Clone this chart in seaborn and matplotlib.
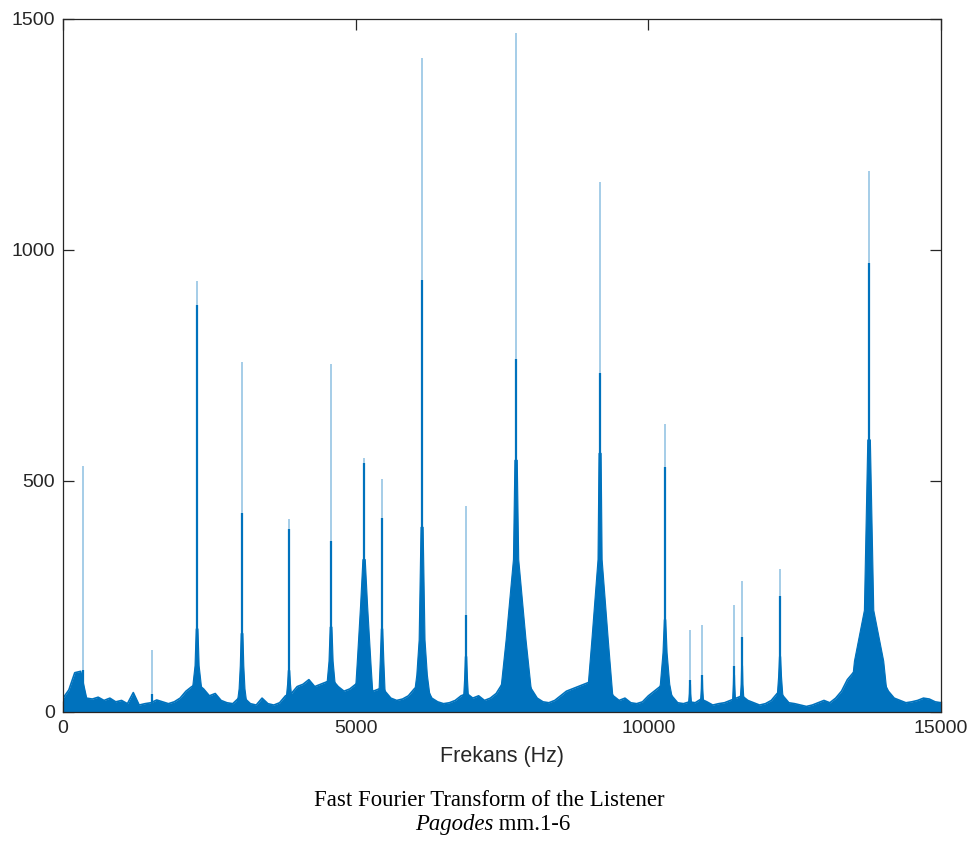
import numpy as np
import pandas as pd
import seaborn as sns
import matplotlib
import matplotlib.pyplot as plt
from matplotlib.patches import Polygon
plt.switch_backend('Agg')

# spectral peaks (Hz, amplitude)
PEAK_HZ = [342, 1520, 2290, 3058, 3861, 4579, 5143, 5450, 6134, 6885,
           7740, 9175, 10285, 10712, 10917, 11464, 11601, 12250, 13771]
PEAK_TOP = [532, 134, 933, 758, 418, 753, 550, 504, 1416, 446,
            1470, 1147, 623, 177, 188, 232, 284, 310, 1171]
# height where the spike stops being solid
PEAK_CORE = [90, 40, 880, 430, 395, 370, 540, 420, 935, 210,
             764, 733, 530, 70, 80, 100, 162, 250, 972]
# shape of each peak's base: half widths (Hz) at four heights
BASE_W = [0, 0, 140, 100, 85, 140, 170, 100, 170, 85,
          300, 240, 170, 50, 50, 50, 70, 100, 340]
SKIRT_H = [0, 0, 60, 50, 40, 60, 100, 50, 80, 35,
           156, 156, 60, 20, 25, 25, 30, 40, 110]
SKIRT_W = [0, 0, 70, 50, 40, 70, 120, 50, 90, 40,
           170, 140, 80, 25, 25, 25, 30, 45, 250]
NECK_H = [0, 0, 100, 100, 60, 110, 230, 113, 156, 70,
          330, 330, 128, 40, 50, 60, 60, 76, 220]
NECK_W = [0, 0, 35, 30, 25, 35, 60, 30, 50, 25,
          45, 35, 35, 12, 12, 12, 15, 25, 80]
DENSE_H = [0, 0, 180, 170, 90, 184, 330, 180, 400, 120,
           545, 560, 200, 60, 70, 80, 100, 120, 589]
DENSE_W = [0, 0, 15, 15, 12, 15, 20, 12, 18, 12,
           20, 18, 12, 8, 8, 8, 8, 10, 22]

# noise floor, every 100 Hz from 0 to 15000
FLOOR_HZ = list(range(0, 15001, 100))
FLOOR = [30, 48, 85, 88, 30, 28, 32, 25, 30, 22,
         25, 18, 42, 15, 18, 20, 26, 22, 18, 22,
         30, 45, 55, 60, 50, 35, 40, 25, 20, 18,
         30, 30, 18, 15, 30, 18, 15, 20, 35, 40,
         55, 60, 70, 55, 60, 65, 70, 55, 45, 50,
         60, 70, 60, 45, 50, 45, 30, 25, 28, 35,
         50, 60, 55, 30, 22, 18, 20, 25, 35, 40,
         30, 35, 25, 30, 40, 60, 80, 90, 90, 75,
         50, 30, 22, 20, 25, 35, 45, 50, 55, 60,
         65, 70, 70, 55, 35, 25, 30, 20, 18, 22,
         35, 45, 55, 55, 35, 20, 18, 22, 20, 28,
         22, 15, 18, 20, 25, 30, 35, 25, 20, 15,
         18, 25, 40, 35, 20, 18, 15, 12, 15, 20,
         25, 20, 30, 45, 70, 85, 80, 100, 100, 105,
         70, 45, 30, 25, 20, 22, 25, 30, 28, 22,
         20]

BLUE = "#0072BD"
INK = "#262626"

sns.set_theme(style="ticks")
matplotlib.rcParams['font.family'] = ["Liberation Sans", "DejaVu Sans"]

fig = plt.figure(figsize=(9.79, 8.43), dpi=100)
ax = fig.add_axes([0.0644, 0.1554, 0.8968, 0.8221])

floor = pd.DataFrame({"hz": FLOOR_HZ, "amp": FLOOR})
ax.fill_between(floor["hz"], 0, floor["amp"], color=BLUE, lw=0)
sns.lineplot(data=floor, x="hz", y="amp", ax=ax, color=BLUE, lw=1.2)

for i, f in enumerate(PEAK_HZ):
    if BASE_W[i] > 0:
        left = [(f - BASE_W[i], 0), (f - SKIRT_W[i], SKIRT_H[i]),
                (f - NECK_W[i], NECK_H[i]), (f - DENSE_W[i], DENSE_H[i])]
        right = [(f + w, h) for (w, h) in
                 [(DENSE_W[i], DENSE_H[i]), (NECK_W[i], NECK_H[i]),
                  (SKIRT_W[i], SKIRT_H[i]), (BASE_W[i], 0)]]
        ax.add_patch(Polygon(left + right, closed=True, color=BLUE, lw=0.8))
    ax.vlines(f, 0, PEAK_CORE[i], color=BLUE, lw=1.6)
    ax.vlines(f, 0, PEAK_TOP[i], color=BLUE, lw=1.1, alpha=0.45)

ax.set_xlim(0, 15000)
ax.set_ylim(0, 1500)
ax.set_xticks([0, 5000, 10000, 15000])
ax.set_yticks([0, 500, 1000, 1500])
ax.tick_params(direction="in", length=8, width=0.9, colors=INK,
               labelsize=14, top=True, right=True, pad=6)
for s in ax.spines.values():
    s.set_visible(True)
    s.set_color(INK)
    s.set_linewidth(0.9)
ax.set_xlabel("Frekans (Hz)", fontsize=15.5, color=INK, labelpad=6)
ax.set_ylabel("")

fig.text(0.5, 0.051, "Fast Fourier Transform of the Listener",
         ha="center", va="center", fontsize=16.4, color="black",
         family="Liberation Serif")
fig.text(0.5036, 0.0215, "Pagodes", ha="right", va="center", fontsize=16.4,
         style="italic", color="black", family="Liberation Serif")
fig.text(0.5036, 0.0215, " mm.1-6", ha="left", va="center", fontsize=16.4,
         color="black", family="Liberation Serif")

fig.savefig("out.png", dpi=100)
